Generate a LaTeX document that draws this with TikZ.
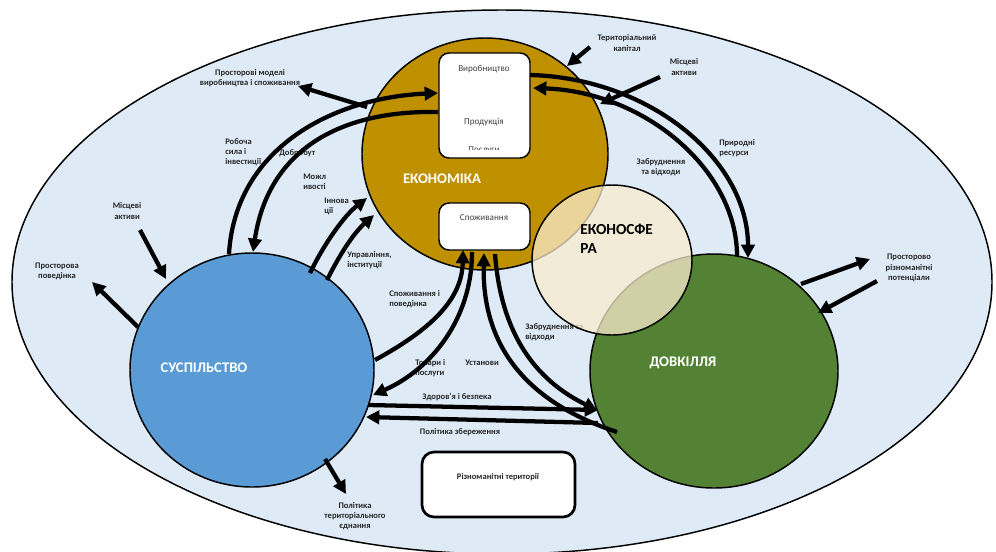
\documentclass[tikz,border=0pt]{standalone}
\usepackage{fontspec}
\setmainfont{Carlito}
\usetikzlibrary{arrows.meta,shapes.geometric}
\definecolor{bgblue}{HTML}{DEEBF7}
\definecolor{econgold}{HTML}{BF9000}
\definecolor{socblue}{HTML}{5B9BD5}
\definecolor{envgreen}{HTML}{548235}
\definecolor{sphere}{RGB}{250,235,205}
\definecolor{lblcol}{HTML}{262626}
\definecolor{boxtxt}{HTML}{404040}
\begin{document}
\begin{tikzpicture}[x=0.75pt,y=-0.75pt,
  arr/.style={line width=3.2pt,-{Triangle[length=10pt,width=10pt]}},
  plain/.style={line width=3.2pt},
  blob/.style={ellipse,draw=black,line width=1.1pt,inner sep=0pt},
  lbl/.style={font=\fontsize{6.4}{7.6}\selectfont\bfseries,text=lblcol,inner sep=0pt},
  big/.style={font=\fontsize{11}{13}\selectfont\bfseries,text=white,inner sep=0pt},
  boxtext/.style={font=\fontsize{6.8}{8}\selectfont,text=boxtxt,inner sep=0pt},
  wbox/.style={draw=black,fill=white,line width=1.1pt,rounded corners=7.5pt,inner sep=0pt}]
\useasboundingbox (0,0) rectangle (996,551);
\clip (0,0) rectangle (996,551);

% outer region
\node[blob,fill=bgblue,minimum width=735pt,minimum height=408pt] (outer) at (502,282) {};

% three spheres
\node[blob,fill=econgold,minimum width=184.5pt,minimum height=174pt] (econ) at (485,154) {};
\node[blob,fill=socblue,minimum width=183pt,minimum height=175.5pt] (soc) at (252,370) {};
\node[blob,fill=envgreen,minimum width=186pt,minimum height=175.5pt] (env) at (714,371) {};

% labels
\node[lbl,align=center] (lpm) at (250,78) {Просторові моделі\\виробництва і споживання};
\node[lbl,align=left,anchor=west] (lrs) at (225,152) {Робоча\\сила і\\інвестиції};
\node[lbl,anchor=west] (ldob) at (279,153) {Добробут};
\node[lbl,align=left,anchor=west] (lmoz) at (303,182) {Можл\\ивості};
\node[lbl,align=left,anchor=west] (linn) at (324,206) {Іннова\\ції};
\node[lbl,align=left,anchor=west] (lupr) at (347,260) {Управління,\\інституції};
\node[lbl,align=center] (ltk) at (627,43) {Територіальний\\капітал};
\node[lbl,align=center] (lma1) at (684,67) {Місцеві\\активи};
\node[lbl,align=center] (lzv1) at (661,167) {Забруднення\\та відходи};
\node[lbl,align=left,anchor=west] (lpr) at (719,148) {Природні\\ресурси};
\node[lbl,align=center] (lma2) at (127,211) {Місцеві\\активи};
\node[lbl,align=center] (lpp) at (57,271) {Просторова\\поведінка};
\node[lbl,align=center] (lrp) at (909,268) {Просторово\\різноманітні\\потенціали};
\node[lbl,align=left,anchor=west] (lsp) at (389,299) {Споживання і\\поведінка};
\node[lbl,align=left,anchor=west] (ltp) at (415,368) {Товари і\\послуги};
\node[lbl] (lust) at (482,363) {Установи};
\node[lbl,align=left,anchor=west] (lzv2) at (525,332) {Забруднення та\\відходи};
\node[lbl] (lzb) at (457,397) {Здоров’я і безпека};
\node[lbl] (lpz) at (460,432) {Політика збереження};
\node[lbl,align=center] (lpte) at (355,516) {Політика\\територіального\\єднання};

% econosphere
\node[blob,fill=sphere,fill opacity=0.75,minimum width=120pt,minimum height=112.5pt] (eco) at (612,260) {};

% big titles
\node[big] (tecon) at (442,179) {ЕКОНОМІКА};
\node[big] (tsoc) at (204,368) {СУСПІЛЬСТВО};
\node[big] (tenv) at (683,363) {ДОВКІЛЛЯ};
\node[big,font=\fontsize{11.5}{14.3}\selectfont\bfseries,text=black,align=left,anchor=west] (teco) at (580,239) {ЕКОНОСФЕ\\РА};

% boxes
\node[wbox,minimum width=68.25pt,minimum height=78.75pt] (prod) at (484.5,105.5) {};
\node[boxtext] (tvyr) at (484,69) {Виробництво};
\node[boxtext] (tprd) at (484,122) {Продукція};
\begin{scope}
  \clip (440,140) rectangle (529,149.5);
  \node[boxtext] (tpos) at (484,150) {Послуги};
\end{scope}
\node[wbox,minimum width=68.25pt,minimum height=35.25pt] (cons) at (484.5,226.5) {};
\node[boxtext] (tspo) at (484,218) {Споживання};
\node[wbox,line width=2pt,rounded corners=9pt,minimum width=114.75pt,minimum height=48.75pt] (terr) at (498.5,484.5) {};
\node[lbl] (tterr) at (498,477) {Різноманітні території};

% connector end points
\coordinate (pmA) at (367,107);  \coordinate (pmB) at (298,86);
\coordinate (rsA) at (229,254);  \coordinate (rsB) at (438,93);
\coordinate (dbA) at (438,112);  \coordinate (dbB) at (253,252);
\coordinate (inA) at (310,273);  \coordinate (inB) at (367,198);
\coordinate (upA) at (327,280);  \coordinate (upB) at (374,215);
\coordinate (nrA) at (530,75);   \coordinate (nrB) at (748,258);
\coordinate (zvA) at (737,256);  \coordinate (zvB) at (533,88);
\coordinate (tkA) at (590,47);   \coordinate (tkB) at (567,66);
\coordinate (maA) at (660,77);   \coordinate (maB) at (600,104);
\coordinate (mbA) at (140,230);  \coordinate (mbB) at (166,279);
\coordinate (ppA) at (138,327);  \coordinate (ppB) at (92,282);
\coordinate (roA) at (801,284);  \coordinate (roB) at (870,259);
\coordinate (riA) at (877,281);  \coordinate (riB) at (818,313);
\coordinate (teA) at (325,459);  \coordinate (teB) at (346,494);
\coordinate (zbA) at (368,405);  \coordinate (zbB) at (598,410);
\coordinate (pzA) at (598,423);  \coordinate (pzB) at (366,417);
\coordinate (spA) at (375,360);  \coordinate (spB) at (463,250);
\coordinate (tpA) at (472,252);  \coordinate (tpB) at (373,395);
\coordinate (usA) at (617,432);  \coordinate (usB) at (484,253);
\coordinate (zlA) at (495,254);  \coordinate (zlB) at (597,410);

% connectors
\draw[arr] (pmA) -- (pmB);
\draw[arr] (rsA) .. controls (235,150) and (330,98) .. (rsB);
\draw[arr] (dbA) .. controls (340,110) and (268,150) .. (dbB);
\draw[arr] (inA) .. controls (325,242) and (345,215) .. (inB);
\draw[arr] (upA) .. controls (342,250) and (355,232) .. (upB);
\draw[arr] (nrA) .. controls (650,78) and (748,160) .. (nrB);
\draw[arr] (zvA) .. controls (737,170) and (645,92) .. (zvB);
\draw[arr] (tkA) -- (tkB);
\draw[arr] (maA) -- (maB);
\draw[arr] (mbA) -- (mbB);
\draw[arr] (ppA) -- (ppB);
\draw[arr] (roA) -- (roB);
\draw[arr] (riA) -- (riB);
\draw[arr] (teA) -- (teB);
\draw[arr] (zbA) -- (zbB);
\draw[arr] (pzA) -- (pzB);
\draw[arr] (spA) .. controls (430,330) and (462,300) .. (spB);
\draw[arr] (tpA) .. controls (472,320) and (430,370) .. (tpB);
\draw[arr] (usA) .. controls (520,400) and (482,340) .. (usB);
\draw[arr] (zlA) .. controls (500,320) and (525,375) .. (zlB);
\end{tikzpicture}
\end{document}
